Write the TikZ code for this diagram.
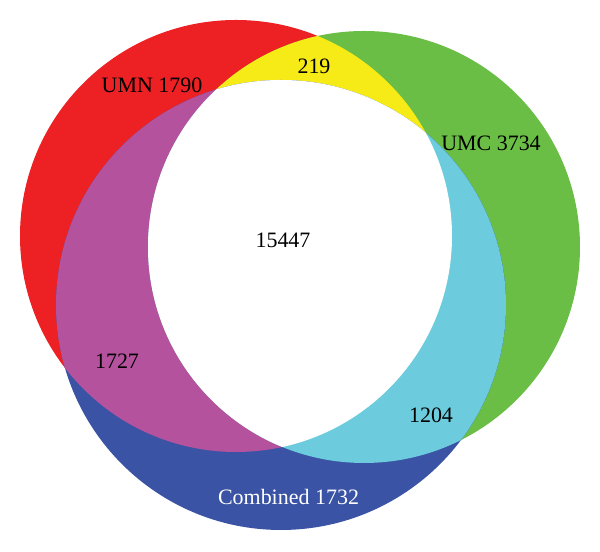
\documentclass[tikz,border=0pt]{standalone}
\usepackage{fontspec}
\setmainfont{Liberation Serif}
\definecolor{umnred}{RGB}{237,32,36}
\definecolor{umcgreen}{RGB}{106,189,69}
\definecolor{combblue}{RGB}{58,83,164}
\definecolor{pairyellow}{RGB}{246,235,22}
\definecolor{pairmagenta}{RGB}{181,82,157}
\definecolor{paircyan}{RGB}{108,203,220}

\begin{document}
\begin{tikzpicture}
	\tikzstyle{mylabel}=[font=\fontsize{12.5}{14}\selectfont, inner sep=0pt]
	\tikzstyle{mylabel}+=[text=black]

	\useasboundingbox (0,0) rectangle (12,11.04);

	% the three sets
	\def\umncircle{(4.72,6.32) circle (4.32)}
	\def\umccircle{(7.28,6.10) circle (4.32)}
	\def\combcircle{(5.62,4.94) circle (4.50)}

	\fill[umnred] \umncircle;
	\fill[umcgreen] \umccircle;
	\fill[combblue] \combcircle;

	% pairwise overlaps
	\begin{scope}
		\clip \umncircle;
		\fill[pairyellow] \umccircle;
		\fill[pairmagenta] \combcircle;
	\end{scope}
	\begin{scope}
		\clip \umccircle;
		\fill[paircyan] \combcircle;
	\end{scope}
	% all three
	\begin{scope}
		\clip \umncircle;
		\clip \umccircle;
		\fill[white] \combcircle;
	\end{scope}

	\node[mylabel] (umn) at (3.04,9.34) {UMN 1790};
	\node[mylabel] (umnumc) at (6.28,9.72) {219};
	\node[mylabel] (umc) at (9.82,8.18) {UMC 3734};
	\node[mylabel] (all) at (5.66,6.24) {15447};
	\node[mylabel] (umncomb) at (2.34,3.82) {1727};
	\node[mylabel] (umccomb) at (8.62,2.74) {1204};
	\node[mylabel, text=white] (comb) at (5.77,1.10) {Combined 1732};
\end{tikzpicture}
\end{document}
